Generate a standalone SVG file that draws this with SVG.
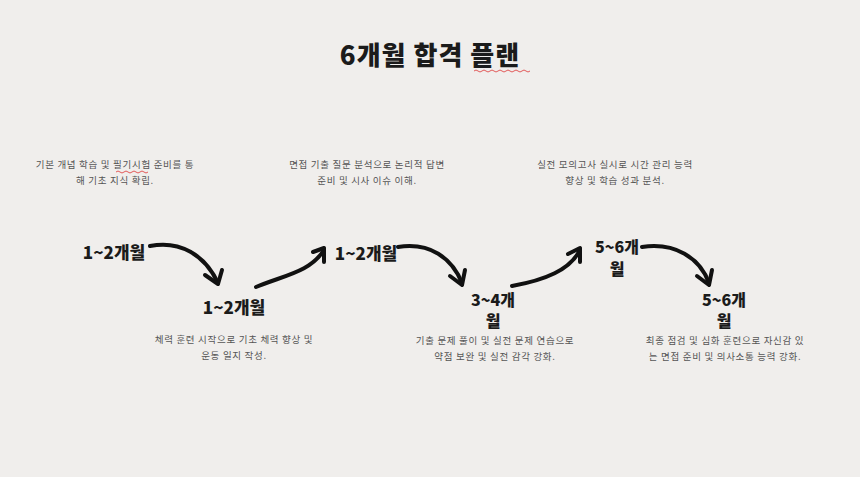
<svg xmlns="http://www.w3.org/2000/svg" width="860" height="477" viewBox="0 0 860 477">
<style>
.t{font-family:"Noto Sans CJK KR","Noto Sans",sans-serif;font-weight:900;fill:#1b1b1b;text-anchor:middle}
.d{font-family:"Noto Sans CJK KR","Noto Sans",sans-serif;font-size:9.5px;letter-spacing:0.7px;fill:#555;text-anchor:middle}
.a{fill:none;stroke:#111;stroke-width:4;stroke-linecap:round;stroke-linejoin:round}
.w{fill:none;stroke:#d33;stroke-width:0.8}
</style>
<rect width="860" height="477" fill="#f0eeec"/>
<text class="t" x="430" y="65" font-size="26" letter-spacing="1">6개월 합격 플랜</text>
<path class="w" d="M474 71 q2 -2 4 0 t4 0 t4 0 t4 0 t4 0 t4 0 t4 0 t4 0 t4 0 t4 0 t4 0 t4 0 t4 0 t4 0"/>
<g id="connectors">
<path class="a" d="M150 246 C180 240 205 255 218 283"/><path class="a" d="M205 275 L218 284 L222 270"/>
<path class="a" d="M256 287 C285 275 310 272 324 250"/><path class="a" d="M313 252 L324 248 L324 262"/>
<path class="a" d="M398 247 C430 242 452 258 462 283"/><path class="a" d="M450 276 L462 285 L465 270"/>
<path class="a" d="M512 286 C545 280 570 270 580 250"/><path class="a" d="M568 254 L580 248 L580 262"/>
<path class="a" d="M642 247 C675 242 700 258 709 283"/><path class="a" d="M697 276 L709 285 L712 270"/>
</g>
<g id="n1"><text class="t" x="114" y="259" font-size="17">1~2개월</text>
<text class="d" x="115" y="168">기본 개념 학습 및 필기시험 준비를 통</text><text class="d" x="115" y="184">해 기초 지식 확립.</text>
<path class="w" d="M116 172 q2 -2 4 0 t4 0 t4 0 t4 0 t4 0 t4 0 t4 0 t4 0"/></g>
<g id="n2"><text class="t" x="234" y="314" font-size="17">1~2개월</text>
<text class="d" x="234" y="343">체력 훈련 시작으로 기초 체력 향상 및</text><text class="d" x="234" y="359">운동 일지 작성.</text></g>
<g id="n3"><text class="t" x="366" y="260" font-size="17">1~2개월</text>
<text class="d" x="367" y="168">면접 기출 질문 분석으로 논리적 답변</text><text class="d" x="367" y="184">준비 및 시사 이슈 이해.</text></g>
<g id="n4"><text class="t" x="493" y="306" font-size="16">3~4개</text><text class="t" x="493" y="327" font-size="16">월</text>
<text class="d" x="495" y="344">기출 문제 풀이 및 실전 문제 연습으로</text><text class="d" x="495" y="360">약점 보완 및 실전 감각 강화.</text></g>
<g id="n5"><text class="t" x="617" y="253" font-size="16">5~6개</text><text class="t" x="617" y="275" font-size="16">월</text>
<text class="d" x="615" y="168">실전 모의고사 실시로 시간 관리 능력</text><text class="d" x="615" y="184">향상 및 학습 성과 분석.</text></g>
<g id="n6"><text class="t" x="724" y="306" font-size="16">5~6개</text><text class="t" x="724" y="327" font-size="16">월</text>
<text class="d" x="725" y="344">최종 점검 및 심화 훈련으로 자신감 있</text><text class="d" x="725" y="360">는 면접 준비 및 의사소통 능력 강화.</text></g>
</svg>
